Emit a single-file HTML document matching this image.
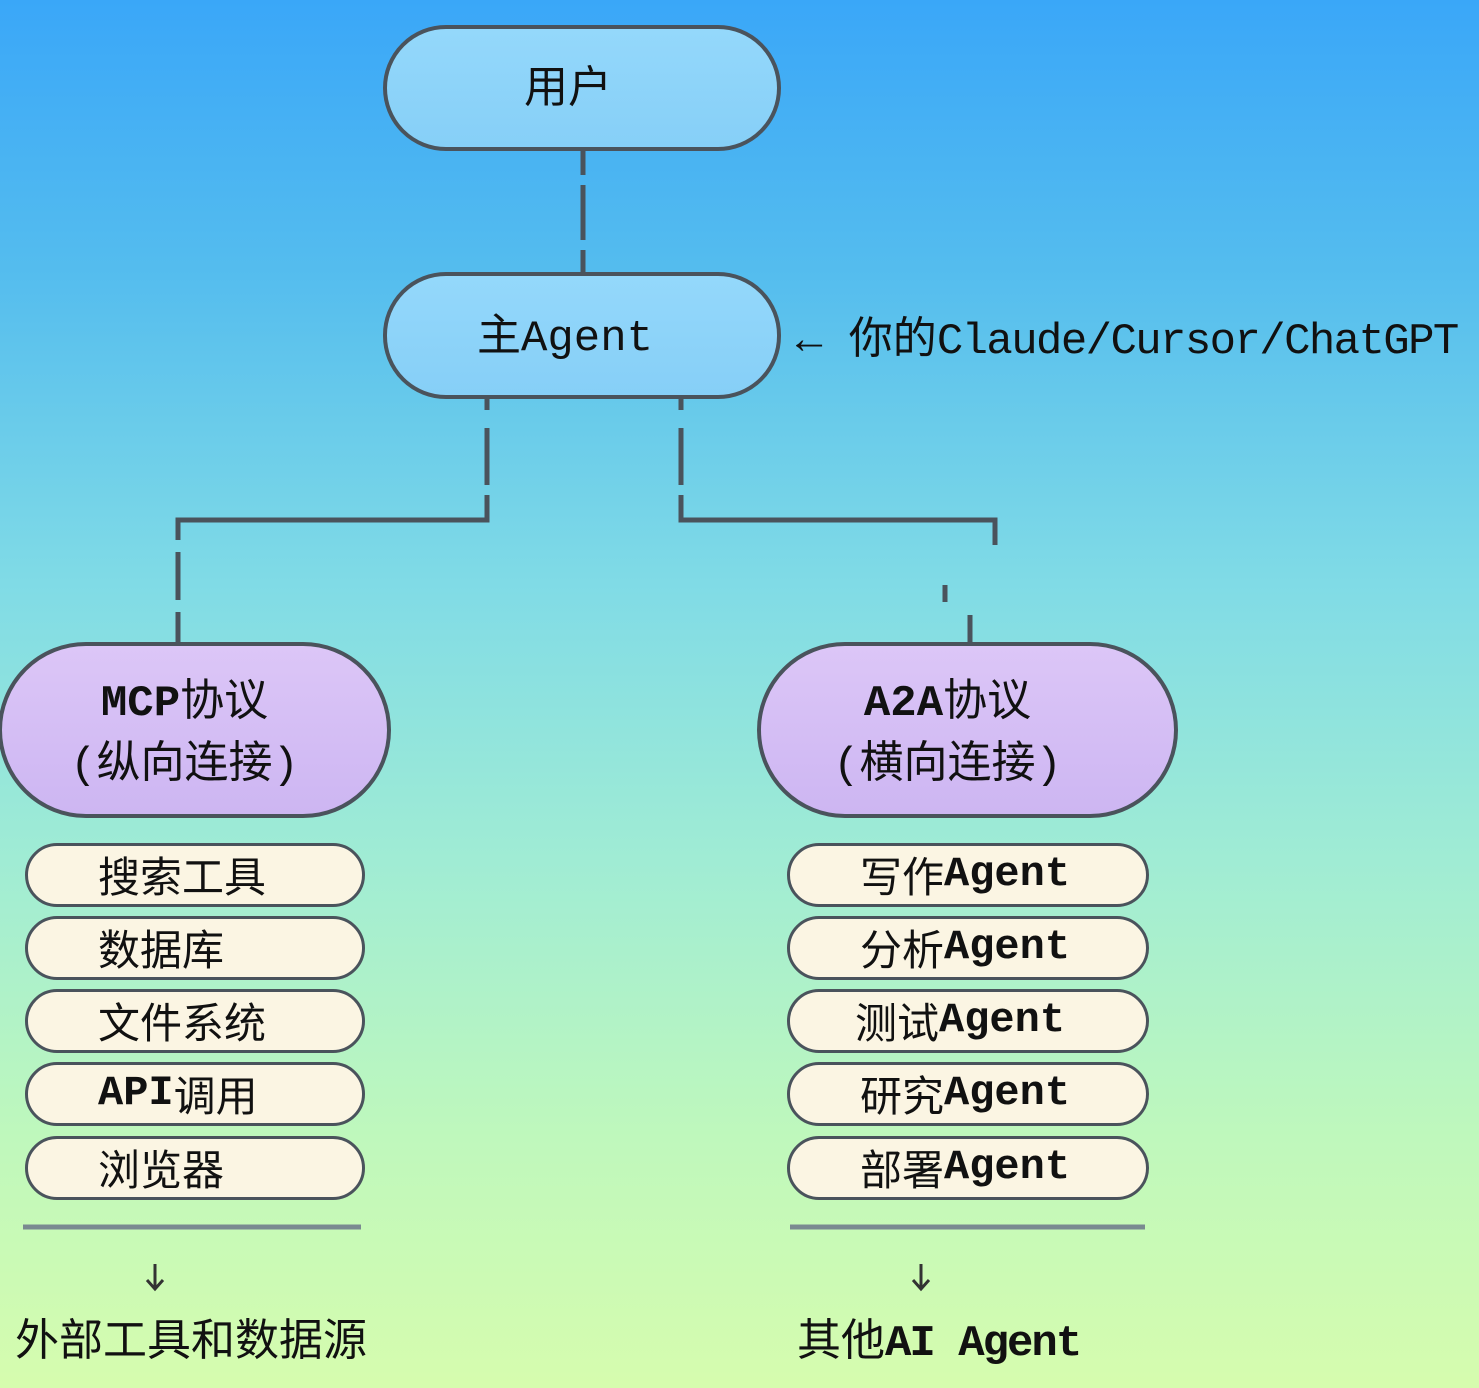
<!DOCTYPE html>
<html><head><meta charset="utf-8"><style>
body{margin:0;width:1479px;height:1388px;overflow:hidden;background:linear-gradient(180deg,#3aa7f8 0%,#55bdee 20%,#80dbe6 42%,#a0ecd4 62%,#bff8bc 82%,#d6fcae 100%);position:relative;font-family:"Liberation Mono","Noto Sans CJK SC",monospace;color:#111}
.p{position:absolute;box-sizing:border-box;border:4px solid #4a535c;display:flex;align-items:center;justify-content:center;text-align:center}
.b{background:linear-gradient(180deg,#94d8fb,#86cff7);border-radius:63px;font-size:44px}
.v{background:linear-gradient(180deg,#dcc6f7,#cdb6f2);border-radius:88px;font-size:44px;line-height:62px}
.s{background:#fbf5e3;border-radius:32px;font-size:42px;height:64px;justify-content:flex-start;border-width:3px}
.t{position:absolute;font-size:44px;white-space:nowrap}
.m{font-weight:bold}
</style></head><body>
<svg width="1479" height="1388" style="position:absolute;left:0;top:0">
<g stroke="#4a535c" stroke-width="5" fill="none">
<path d="M583 150V175M583 185V240M583 250V272"/>
<path d="M487 398V410M487 428V485M487 495V520H178V540M178 552V600M178 612V642"/>
<path d="M681 398V410M681 428V485M681 495V520H995V545"/>
<path d="M945 585V602M970 615V642"/>
</g>
<g stroke="#7a8a90" stroke-width="5"><path d="M23 1227H361M790 1227H1145"/></g>
<g stroke="#333" stroke-width="3" fill="none"><path d="M155 1264V1288M147 1280L155 1289L163 1280M921 1264V1288M913 1280L921 1289L929 1280"/></g>
</svg>
<div class="p b" style="left:383px;top:25px;width:398px;height:126px;padding-bottom:10px;padding-right:28px">用户</div>
<div class="p b" style="left:383px;top:272px;width:398px;height:127px;padding-bottom:8px;padding-right:34px">主Agent</div>
<div class="t" style="left:796px;top:302px">← 你的<span style="letter-spacing:-1.6px">Claude/Cursor/ChatGPT</span></div>
<div class="p v" style="left:-2px;top:642px;width:393px;height:176px;padding-right:20px;padding-top:10px"><div><span class="m">MCP</span>协议<br>(纵向连接)</div></div>
<div class="p v" style="left:757px;top:642px;width:421px;height:176px;padding-right:40px;padding-top:10px"><div><span class="m">A2A</span>协议<br>(横向连接)</div></div>
<div class="p s" style="left:25px;top:843px;width:340px;padding-left:70px;padding-bottom:2px">搜索工具</div>
<div class="p s" style="left:25px;top:916px;width:340px;padding-left:70px;padding-bottom:2px">数据库</div>
<div class="p s" style="left:25px;top:989px;width:340px;padding-left:70px;padding-bottom:2px">文件系统</div>
<div class="p s" style="left:25px;top:1062px;width:340px;padding-left:70px;padding-bottom:2px"><span class="m">API</span>调用</div>
<div class="p s" style="left:25px;top:1136px;width:340px;padding-left:70px;padding-bottom:2px">浏览器</div>
<div class="p s" style="left:787px;top:843px;width:362px;padding-left:70px;padding-bottom:2px">写作<span class="m">Agent</span></div>
<div class="p s" style="left:787px;top:916px;width:362px;padding-left:70px;padding-bottom:2px">分析<span class="m">Agent</span></div>
<div class="p s" style="left:787px;top:989px;width:362px;padding-left:65px;padding-bottom:2px">测试<span class="m">Agent</span></div>
<div class="p s" style="left:787px;top:1062px;width:362px;padding-left:70px;padding-bottom:2px">研究<span class="m">Agent</span></div>
<div class="p s" style="left:787px;top:1136px;width:362px;padding-left:70px;padding-bottom:2px">部署<span class="m">Agent</span></div>
<div class="t" style="left:15px;top:1304px">外部工具和数据源</div>
<div class="t" style="left:797px;top:1304px">其他<span class="m" style="letter-spacing:-2px">AI Agent</span></div>
</body></html>
